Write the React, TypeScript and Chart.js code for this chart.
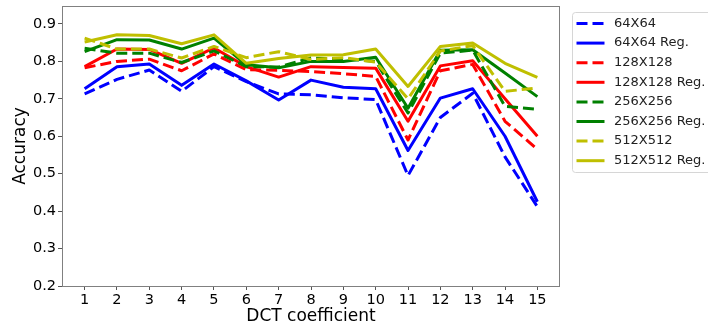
import React, { useEffect, useRef } from "react";
import { Chart, registerables } from "chart.js";

Chart.register(...registerables);

const coefficients = [1, 2, 3, 4, 5, 6, 7, 8, 9, 10, 11, 12, 13, 14, 15];
const yTicks = [0.2, 0.3, 0.4, 0.5, 0.6, 0.7, 0.8, 0.9];

const s64 = [0.713, 0.752, 0.777, 0.72, 0.786, 0.746, 0.713, 0.711, 0.703, 0.698, 0.495, 0.65, 0.715, 0.545, 0.412];
const s64Reg = [0.727, 0.786, 0.793, 0.736, 0.793, 0.748, 0.697, 0.75, 0.731, 0.727, 0.562, 0.702, 0.727, 0.6, 0.425];
const s128 = [0.783, 0.8, 0.806, 0.775, 0.82, 0.778, 0.776, 0.773, 0.767, 0.76, 0.59, 0.775, 0.792, 0.64, 0.565];
const s128Reg = [0.786, 0.833, 0.832, 0.795, 0.836, 0.786, 0.758, 0.786, 0.784, 0.782, 0.64, 0.788, 0.802, 0.7, 0.6];
const s256 = [0.835, 0.822, 0.822, 0.797, 0.828, 0.786, 0.785, 0.809, 0.807, 0.8, 0.662, 0.822, 0.83, 0.68, 0.672];
const s256Reg = [0.826, 0.858, 0.857, 0.833, 0.862, 0.791, 0.783, 0.8, 0.8, 0.811, 0.675, 0.83, 0.831, 0.769, 0.706];
const s512 = [0.862, 0.833, 0.833, 0.809, 0.84, 0.81, 0.826, 0.805, 0.81, 0.798, 0.7, 0.828, 0.842, 0.72, 0.729];
const s512Reg = [0.852, 0.871, 0.869, 0.847, 0.871, 0.795, 0.808, 0.817, 0.818, 0.833, 0.733, 0.84, 0.849, 0.795, 0.757];

const seriesLabels = ["64X64", "64X64 Reg.", "128X128", "128X128 Reg.", "256X256", "256X256 Reg.", "512X512", "512X512 Reg."];
const seriesValues = [s64, s64Reg, s128, s128Reg, s256, s256Reg, s512, s512Reg];
const seriesColors = ["#0000ff", "#0000ff", "#ff0000", "#ff0000", "#008000", "#008000", "#bfbf00", "#bfbf00"];
const seriesDashed = [true, false, true, false, true, false, true, false];

const FONT = "'DejaVu Sans', sans-serif";
const DASH = [11, 5];

const framePlugin = {
  id: "frame",
  afterDatasetsDraw(chart: any) {
    const { ctx, chartArea } = chart;
    ctx.save();
    ctx.strokeStyle = "#808080";
    ctx.lineWidth = 1;
    ctx.strokeRect(chartArea.left + 0.5, chartArea.top + 0.5, chartArea.right - chartArea.left - 1, chartArea.bottom - chartArea.top);
    ctx.restore();
  },
};

const legendPlugin = {
  id: "boxLegend",
  afterDraw(chart: any) {
    const { ctx, chartArea } = chart;
    const x0 = chartArea.right + 12.5;
    const y0 = 12.5;
    const w = 150;
    const h = 160;
    const r = 3;
    ctx.save();
    ctx.beginPath();
    ctx.moveTo(x0 + r, y0);
    ctx.lineTo(x0 + w - r, y0);
    ctx.arcTo(x0 + w, y0, x0 + w, y0 + r, r);
    ctx.lineTo(x0 + w, y0 + h - r);
    ctx.arcTo(x0 + w, y0 + h, x0 + w - r, y0 + h, r);
    ctx.lineTo(x0 + r, y0 + h);
    ctx.arcTo(x0, y0 + h, x0, y0 + h - r, r);
    ctx.lineTo(x0, y0 + r);
    ctx.arcTo(x0, y0, x0 + r, y0, r);
    ctx.closePath();
    ctx.fillStyle = "rgba(255,255,255,0.8)";
    ctx.fill();
    ctx.strokeStyle = "#d6d6d6";
    ctx.lineWidth = 1;
    ctx.stroke();
    ctx.font = `13px ${FONT}`;
    ctx.textBaseline = "middle";
    chart.data.datasets.forEach((ds: any, i: number) => {
      const y = y0 + 11 + i * 19.6;
      ctx.beginPath();
      ctx.setLineDash(ds.borderDash || []);
      ctx.strokeStyle = ds.borderColor;
      ctx.lineWidth = ds.borderWidth;
      ctx.moveTo(x0 + 4, y);
      ctx.lineTo(x0 + 32, y);
      ctx.stroke();
      ctx.setLineDash([]);
      ctx.fillStyle = "#222";
      ctx.fillText(ds.label, x0 + 41.5, y);
    });
    ctx.restore();
  },
};

export default function App() {
  const ref = useRef<HTMLCanvasElement>(null);
  useEffect(() => {
    if (!ref.current) return;
    const datasets = seriesLabels.map((label, i) => ({
      label,
      data: coefficients.map((c, j) => ({ x: c, y: seriesValues[i][j] })),
      borderColor: seriesColors[i],
      backgroundColor: seriesColors[i],
      borderWidth: 3,
      borderDash: seriesDashed[i] ? DASH : [],
      borderJoinStyle: "round" as const,
      pointRadius: 0,
      tension: 0,
      fill: false,
      order: seriesLabels.length - i,
    }));
    const chart = new Chart(ref.current, {
      type: "line",
      data: { datasets },
      options: {
        animation: false,
        responsive: false,
        devicePixelRatio: 1,
        layout: { padding: { top: 6, right: 148, left: 0, bottom: 0 } },
        plugins: { legend: { display: false }, tooltip: { enabled: false } },
        scales: {
          x: {
            type: "linear",
            min: 0.3,
            max: 15.7,
            afterBuildTicks: (s: any) => {
              s.ticks = coefficients.map((v) => ({ value: v }));
            },
            afterFit: (s: any) => {
              s.height = 45;
              s.paddingLeft = 0;
              s.paddingRight = 0;
              s.paddingTop = 0;
              s.paddingBottom = 0;
            },
            border: { display: false },
            grid: { drawOnChartArea: false, drawTicks: true, tickLength: 4, color: "#555" },
            ticks: { color: "#000", font: { family: FONT, size: 14.5 }, padding: 2, maxRotation: 0, autoSkip: false },
            title: { display: true, text: "DCT coefficient", color: "#000", font: { family: FONT, size: 17 }, padding: { top: 0, bottom: 4 } },
          },
          y: {
            type: "linear",
            min: 0.2,
            max: 0.948,
            afterBuildTicks: (s: any) => {
              s.ticks = yTicks.map((v) => ({ value: v }));
            },
            afterFit: (s: any) => {
              s.width = 62;
              s.paddingLeft = 0;
              s.paddingRight = 0;
              s.paddingTop = 0;
              s.paddingBottom = 0;
            },
            border: { display: false },
            grid: { drawOnChartArea: false, drawTicks: true, tickLength: 4, color: "#555" },
            ticks: { color: "#000", font: { family: FONT, size: 14.5 }, padding: 2, callback: (v: any) => Number(v).toFixed(1) },
            title: { display: true, text: "Accuracy", color: "#000", font: { family: FONT, size: 17 }, padding: { top: 10, bottom: 0 } },
          },
        },
      },
      plugins: [framePlugin, legendPlugin],
    });
    return () => chart.destroy();
  }, []);
  return (
    <div style={{ position: "fixed", left: 0, top: 0, width: 708, height: 331, background: "#fff" }}>
      <canvas ref={ref} width={708} height={331} style={{ display: "block", width: 708, height: 331 }} />
    </div>
  );
}
